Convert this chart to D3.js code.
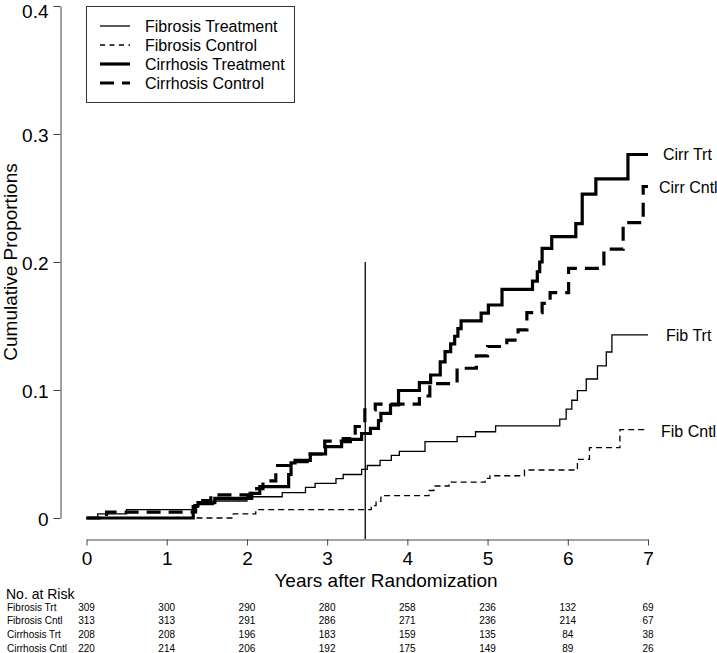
<!DOCTYPE html>
<html lang="en">
<head>
<meta charset="UTF-8">
<title>Cumulative Proportions</title>
<script src="https://d3js.org/d3.v7.min.js"></script>
<style>
    body { margin: 0; background: #fff; }
    svg { display: block; font-family: "Liberation Sans", Arial, sans-serif; }
    .axis path, .axis line { stroke: #444; stroke-width: 1px; }
    .axis text { fill: #000; font-size: 19px; }
    .curve { fill: none; stroke: #000; }
</style>
</head>
<body>
<div id="chart"></div>
<script>
// tick labels
var xTicks = [0, 1, 2, 3, 4, 5, 6, 7];
var yTicks = [0, 0.1, 0.2, 0.3, 0.4];

// step curves (years, cumulative proportion)
var fibTrtT  = [0, 0.14, 0.5, 1.34, 1.58, 2.0, 2.44, 2.73, 2.85, 3.11, 3.2, 3.43, 3.5, 3.66, 3.8, 3.9, 4.22, 4.62, 4.85, 5.1, 5.9, 5.98, 6.05, 6.12, 6.23, 6.37, 6.48, 6.55, 7];
var fibTrtP  = [0, 0.0032, 0.0066, 0.0105, 0.0133, 0.0166, 0.0198, 0.024, 0.027, 0.0307, 0.034, 0.038, 0.041, 0.045, 0.049, 0.052, 0.0596, 0.0635, 0.0674, 0.0719, 0.0773, 0.085, 0.092, 0.0995, 0.1086, 0.1188, 0.1297, 0.143, 0.143];

var fibCntlT = [0, 1.83, 2.11, 3.55, 3.61, 3.67, 4.27, 4.33, 4.52, 4.97, 5.03, 5.46, 6.12, 6.27, 6.65, 7];
var fibCntlP = [0, 0.0032, 0.0065, 0.0097, 0.013, 0.0175, 0.0215, 0.025, 0.028, 0.031, 0.033, 0.0375, 0.0458, 0.055, 0.069, 0.069];

var cirrTrtT = [0, 1.33, 1.36, 1.39, 1.6, 2.06, 2.16, 2.52, 2.55, 2.6, 2.79, 2.98, 3.18, 3.29, 3.43, 3.54, 3.64, 3.67, 3.79, 3.89, 4.15, 4.29, 4.41, 4.47, 4.54, 4.59, 4.63, 4.67, 4.92, 5.01, 5.18, 5.56, 5.62, 5.65, 5.68, 5.8, 6.1, 6.18, 6.35, 6.75, 7];
var cirrTrtP = [0, 0.0048, 0.0096, 0.012, 0.0154, 0.0193, 0.0245, 0.034, 0.043, 0.045, 0.05, 0.0557, 0.0597, 0.0615, 0.066, 0.07, 0.076, 0.0818, 0.0883, 0.0996, 0.1057, 0.1117, 0.122, 0.13, 0.136, 0.142, 0.148, 0.154, 0.16, 0.1664, 0.1786, 0.185, 0.1924, 0.2, 0.2107, 0.2198, 0.23, 0.253, 0.265, 0.284, 0.284];

var cirrCntlT = [0, 0.25, 1.33, 1.38, 1.55, 2.04, 2.2, 2.36, 2.52, 2.75, 2.97, 3.2, 3.35, 3.47, 3.6, 4.15, 4.28, 4.62, 4.86, 5.0, 5.24, 5.38, 5.49, 5.68, 5.78, 6.01, 6.45, 6.69, 6.94, 7];
var cirrCntlP = [0, 0.0046, 0.009, 0.0136, 0.018, 0.023, 0.029, 0.041, 0.044, 0.05, 0.06, 0.062, 0.0715, 0.0844, 0.089, 0.0953, 0.105, 0.117, 0.1266, 0.134, 0.139, 0.147, 0.1604, 0.1677, 0.176, 0.195, 0.21, 0.2307, 0.259, 0.259];

var legendLabels = ["Fibrosis Treatment", "Fibrosis Control", "Cirrhosis Treatment", "Cirrhosis Control"];
var endLabels = ["Fib Trt", "Fib Cntl", "Cirr Trt", "Cirr Cntl"];

// number at risk table
var riskGroups = ["Fibrosis Trt", "Fibrosis Cntl", "Cirrhosis Trt", "Cirrhosis Cntl"];
var riskFibTrt = [309, 300, 290, 280, 258, 236, 132, 69];
var riskFibCntl = [313, 313, 291, 286, 271, 236, 214, 67];
var riskCirrTrt = [208, 208, 196, 183, 159, 135, 84, 38];
var riskCirrCntl = [220, 214, 206, 192, 175, 149, 89, 26];

var cutYear = 3.475;

var W = 717, H = 653;
var svg = d3.select("#chart").append("svg")
    .attr("width", W)
    .attr("height", H);

var x = d3.scaleLinear().domain([0, 7]).range([86.5, 648]);
var y = d3.scaleLinear().domain([0, 0.4]).range([518, 6]);

// axes
svg.append("g")
    .attr("class", "axis")
    .attr("transform", "translate(0,539.5)")
    .call(d3.axisBottom(x).tickValues(xTicks).tickSize(6).tickSizeOuter(0).tickPadding(6).tickFormat(d3.format("d")));

var yAxis = svg.append("g")
    .attr("class", "axis")
    .attr("transform", "translate(60.5,0)")
    .call(d3.axisLeft(y).tickValues(yTicks).tickSize(7).tickSizeOuter(0).tickPadding(5)
        .tickFormat(function(d) { return d === 0 ? "0" : d3.format(".1f")(d); }));
yAxis.selectAll("text").attr("dy", "0.4em");
// top label sits a little low so it stays inside the picture
yAxis.selectAll("text").filter(function(d) { return d === 0.4; }).attr("dy", "0.6em");

svg.append("text")
    .attr("x", 386)
    .attr("y", 587)
    .attr("text-anchor", "middle")
    .style("font-size", "19px")
    .text("Years after Randomization");

svg.append("text")
    .attr("transform", "translate(17,262) rotate(-90)")
    .attr("text-anchor", "middle")
    .style("font-size", "19px")
    .text("Cumulative Proportions");

// reference line
svg.append("line")
    .attr("x1", x(cutYear)).attr("x2", x(cutYear))
    .attr("y1", y(0.2)).attr("y2", 539)
    .attr("stroke", "#000")
    .attr("stroke-width", 1.3);

var series = [
    {t: fibTrtT, p: fibTrtP, w: 1.3, dash: null},
    {t: fibCntlT, p: fibCntlP, w: 1.3, dash: "6,4"},
    {t: cirrTrtT, p: cirrTrtP, w: 3.2, dash: null},
    {t: cirrCntlT, p: cirrCntlP, w: 3.2, dash: "14,8"}
];

var line = d3.line()
    .x(function(d) { return x(d[0]); })
    .y(function(d) { return y(d[1]); })
    .curve(d3.curveStepAfter);

series.forEach(function(s) {
    var pts = s.t.map(function(t, i) { return [t, s.p[i]]; });
    svg.append("path")
        .attr("class", "curve")
        .attr("d", line(pts))
        .attr("stroke-width", s.w)
        .attr("stroke-dasharray", s.dash);
});

// labels at the right end of each curve
var endOffsets = [[18, 6], [13, 7], [15, 6], [11, 7]];
series.forEach(function(s, i) {
    var last = s.p[s.p.length - 1];
    svg.append("text")
        .attr("x", x(7) + endOffsets[i][0])
        .attr("y", y(last) + endOffsets[i][1])
        .style("font-size", "16px")
        .text(endLabels[i]);
});

// legend
var legend = svg.append("g");
legend.append("rect")
    .attr("x", 86.5).attr("y", 6.5)
    .attr("width", 208).attr("height", 96)
    .attr("fill", "#fff")
    .attr("stroke", "#333");

series.forEach(function(s, i) {
    var ly = 26 + i * 19;
    legend.append("line")
        .attr("x1", 100).attr("x2", 130)
        .attr("y1", ly).attr("y2", ly)
        .attr("stroke", "#000")
        .attr("stroke-width", s.w)
        .attr("stroke-dasharray", s.dash ? (s.w > 2 ? "14,8" : "5,4.5") : null);
    legend.append("text")
        .attr("x", 145)
        .attr("y", ly + 6)
        .style("font-size", "16px")
        .text(legendLabels[i]);
});

// number at risk
svg.append("text")
    .attr("x", 6).attr("y", 599)
    .style("font-size", "14px")
    .text("No. at Risk");

var riskRows = [riskFibTrt, riskFibCntl, riskCirrTrt, riskCirrCntl];
riskRows.forEach(function(row, i) {
    var ry = 610.5 + i * 13.8;
    svg.append("text")
        .attr("x", 7).attr("y", ry)
        .style("font-size", "10px")
        .text(riskGroups[i]);
    svg.selectAll(null)
        .data(row)
        .enter().append("text")
        .attr("x", function(d, j) { return x(xTicks[j]); })
        .attr("y", ry)
        .attr("text-anchor", "middle")
        .style("font-size", "10px")
        .text(function(d) { return d; });
});
</script>
</body>
</html>
